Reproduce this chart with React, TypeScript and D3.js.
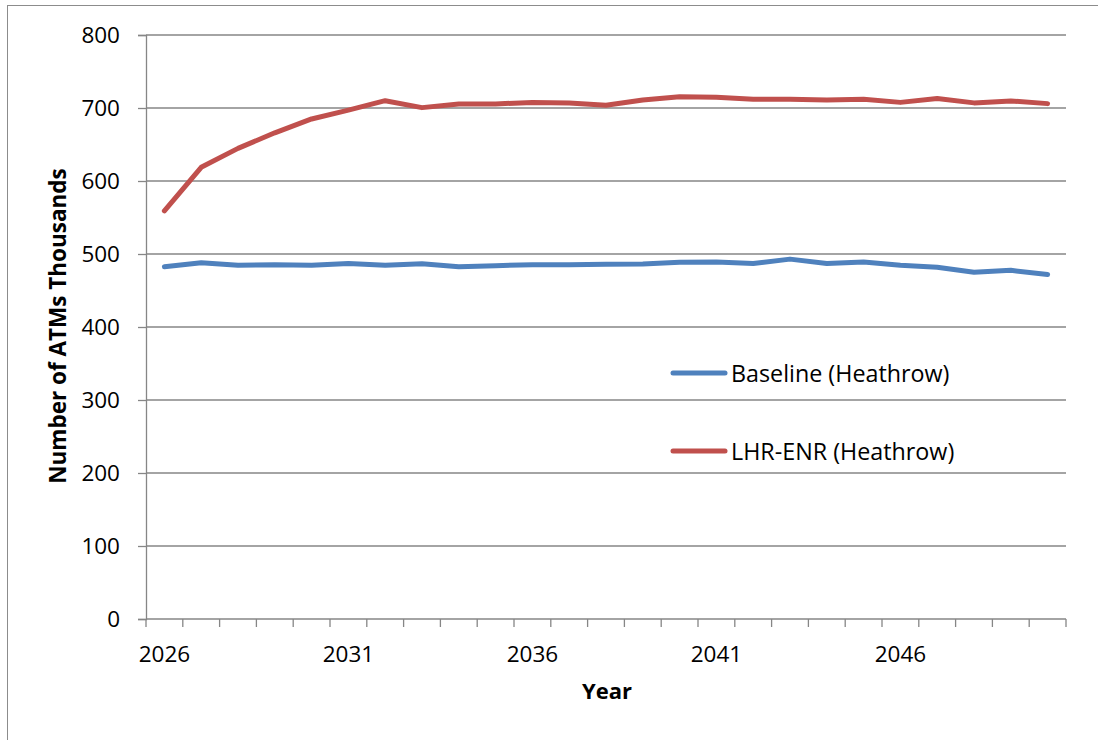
import React, { useEffect, useRef } from 'react';
import * as d3 from 'd3';

const years = d3.range(2026, 2051).map(String);
const yTicks = [0, 100, 200, 300, 400, 500, 600, 700, 800];
const xLabelYears = ['2026', '2031', '2036', '2041', '2046'];

const baseline = [482.6, 488, 484.5, 485.4, 484.5, 487, 484.5, 486.7, 482.6, 484, 485.4, 485.4,
  486, 486.3, 488.6, 489, 487, 493, 487, 489, 484.5, 481.8, 475, 477.6, 472];
const lhrEnr = [559, 618.8, 644.7, 666, 685, 697, 710, 700.5, 705.5, 705.5, 707.7, 707,
  703.7, 711, 715.5, 714.6, 712, 712, 711, 712, 707.7, 713, 707, 709.6, 706];

const series = [
  { name: 'Baseline (Heathrow)', values: baseline, color: '#4F81BD' },
  { name: 'LHR-ENR (Heathrow)', values: lhrEnr, color: '#C0504D' },
];

export default function App() {
  const ref = useRef<SVGSVGElement | null>(null);

  useEffect(() => {
    if (!ref.current) return;
    const W = 1098, H = 740;
    const m = { left: 146, right: 32, top: 35, bottom: 121 };
    const svg = d3.select(ref.current);
    svg.selectAll('*').remove();
    const font = '"Open Sans", Lato, sans-serif';
    const fs = 22.5;

    // chart border
    svg.append('rect').attr('x', 7.5).attr('y', 5.5).attr('width', W).attr('height', H)
      .attr('fill', 'white').attr('stroke', '#8c8c8c').attr('stroke-width', 1);

    const x = d3.scaleBand().domain(years).range([m.left, W - m.right]);
    const y = d3.scaleLinear().domain([0, 800]).range([H - m.bottom, m.top]);

    const g = svg.append('g');

    // gridlines
    g.selectAll('.grid').data(yTicks.filter(t => t > 0)).join('line')
      .attr('x1', m.left).attr('x2', W - m.right)
      .attr('y1', d => y(d)).attr('y2', d => y(d))
      .attr('stroke', '#868686').attr('stroke-width', 1.3);

    // y axis
    const yAxis = g.append('g').attr('transform', `translate(${m.left},0)`)
      .call(d3.axisLeft(y).tickValues(yTicks).tickSize(8).tickPadding(18));
    yAxis.select('.domain').attr('stroke', '#868686').attr('stroke-width', 1.3);
    yAxis.selectAll('.tick line').attr('stroke', '#868686').attr('stroke-width', 1.3);
    yAxis.selectAll('.tick text').attr('font-family', font).attr('font-size', fs).attr('fill', '#000');

    // x axis: ticks at category boundaries
    const x0 = m.left;
    const bw = x.bandwidth();
    const xAxis = g.append('g').attr('transform', `translate(0,${y(0)})`);
    xAxis.append('line').attr('x1', m.left).attr('x2', W - m.right)
      .attr('stroke', '#868686').attr('stroke-width', 1.3);
    xAxis.selectAll('.xt').data(d3.range(years.length + 1)).join('line')
      .attr('x1', i => x0 + i * bw).attr('x2', i => x0 + i * bw)
      .attr('y1', 0).attr('y2', 8)
      .attr('stroke', '#868686').attr('stroke-width', 1.3);
    xAxis.selectAll('.xl').data(xLabelYears).join('text')
      .attr('x', d => (x(d) as number) + bw / 2).attr('y', 43)
      .attr('text-anchor', 'middle').attr('font-family', font).attr('font-size', fs)
      .attr('fill', '#000').text(d => d);

    // lines
    const line = d3.line<number>()
      .x((_, i) => (x(years[i]) as number) + bw / 2)
      .y(d => y(d));
    series.forEach(s => {
      g.append('path').datum(s.values).attr('d', line)
        .attr('fill', 'none').attr('stroke', s.color).attr('stroke-width', 5)
        .attr('stroke-linejoin', 'round').attr('stroke-linecap', 'round');
    });

    // legend
    const leg = svg.append('g');
    series.forEach((s, i) => {
      const ly = 373 + i * 78;
      leg.append('line').attr('x1', 673).attr('x2', 725).attr('y1', ly).attr('y2', ly)
        .attr('stroke', s.color).attr('stroke-width', 5).attr('stroke-linecap', 'round');
      leg.append('text').attr('x', 731).attr('y', ly + 8.5).attr('font-family', font)
        .attr('font-size', 23.3).attr('fill', '#000').text(s.name);
    });

    // axis titles
    svg.append('text').attr('transform', `translate(66,326) rotate(-90)`)
      .attr('text-anchor', 'middle').attr('font-family', font).attr('font-size', 22.5)
      .attr('font-weight', 'bold').attr('fill', '#000').text('Number of ATMs Thousands');
    svg.append('text').attr('x', 607).attr('y', 699)
      .attr('text-anchor', 'middle').attr('font-family', font).attr('font-size', 22)
      .attr('font-weight', 'bold').attr('fill', '#000').text('Year');
  }, []);

  return (
    <svg ref={ref} width={1098} height={740}
      style={{ position: 'absolute', left: 0, top: 0, display: 'block' }} />
  );
}
